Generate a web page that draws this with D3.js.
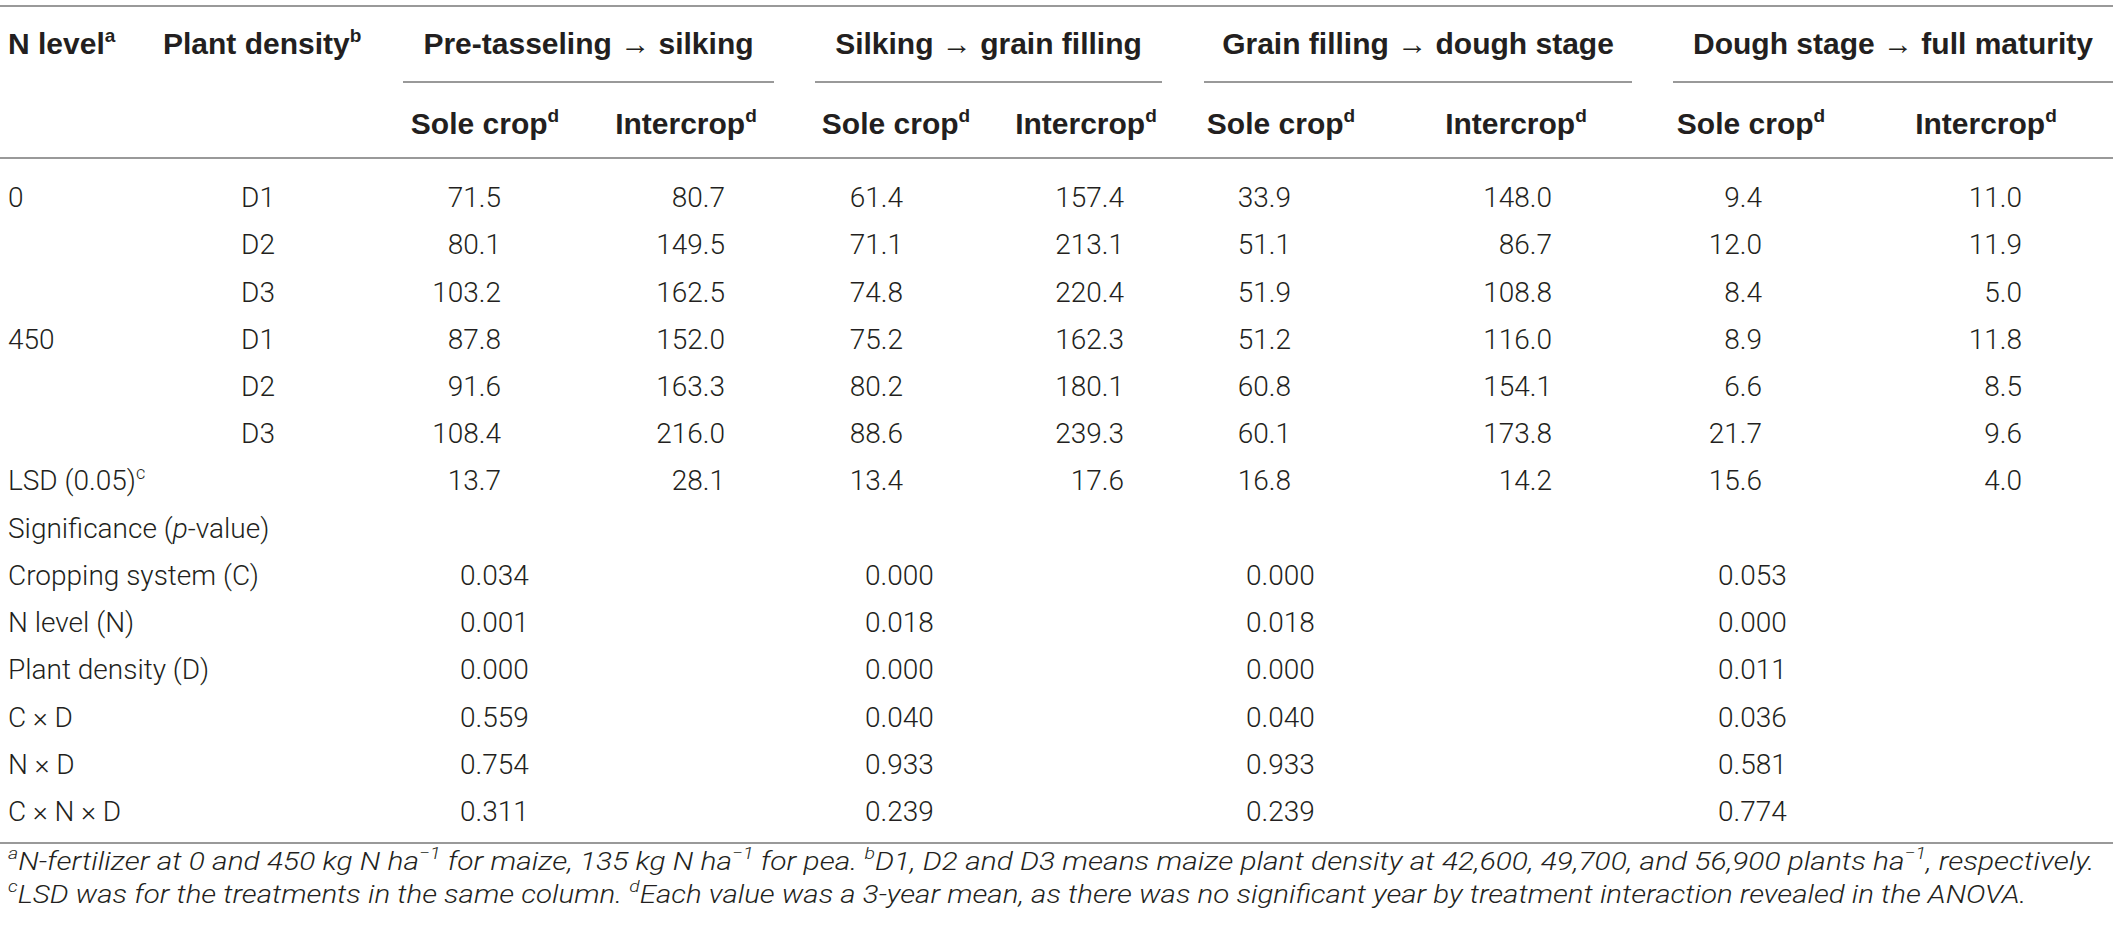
<!DOCTYPE html>
<html>
<head>
<meta charset="utf-8">
<script src="https://cdn.jsdelivr.net/npm/d3@7"></script>
<style>
	html, body { margin: 0; padding: 0; background: #fff; }
	svg text { fill: #231f20; }
	.body { font-family: "Roboto", "Liberation Sans", sans-serif; font-size: 28px; font-weight: 300; }
	.head { font-family: "Liberation Sans", Arial, sans-serif; font-size: 30px; font-weight: 700; }
	.foot { font-family: "Roboto", "Liberation Sans", sans-serif; font-size: 26px; font-weight: 300; font-style: italic; }
	.rule { stroke: #999; stroke-width: 2; }
</style>
</head>
<body>
<div id="chart"></div>
<script>
// Table data
var stages = ["Pre-tasseling \u2192 silking", "Silking \u2192 grain filling", "Grain filling \u2192 dough stage", "Dough stage \u2192 full maturity"];
var crops = ["Sole crop", "Intercrop"];
var nLevels = ["0", "", "", "450", "", ""];
var densities = ["D1", "D2", "D3", "D1", "D2", "D3"];

var preSole    = [71.5, 80.1, 103.2, 87.8, 91.6, 108.4];
var preInter   = [80.7, 149.5, 162.5, 152.0, 163.3, 216.0];
var silkSole   = [61.4, 71.1, 74.8, 75.2, 80.2, 88.6];
var silkInter  = [157.4, 213.1, 220.4, 162.3, 180.1, 239.3];
var grainSole  = [33.9, 51.1, 51.9, 51.2, 60.8, 60.1];
var grainInter = [148.0, 86.7, 108.8, 116.0, 154.1, 173.8];
var doughSole  = [9.4, 12.0, 8.4, 8.9, 6.6, 21.7];
var doughInter = [11.0, 11.9, 5.0, 11.8, 8.5, 9.6];

var lsd = [13.7, 28.1, 13.4, 17.6, 16.8, 14.2, 15.6, 4.0];

var sources = ["Cropping system (C)", "N level (N)", "Plant density (D)", "C \u00d7 D", "N \u00d7 D", "C \u00d7 N \u00d7 D"];
var pCropping = [0.034, 0.000, 0.000, 0.053];
var pNLevel   = [0.001, 0.018, 0.018, 0.000];
var pDensity  = [0.000, 0.000, 0.000, 0.011];
var pCxD      = [0.559, 0.040, 0.040, 0.036];
var pNxD      = [0.754, 0.933, 0.933, 0.581];
var pCxNxD    = [0.311, 0.239, 0.239, 0.774];

var footA = [["a", "sup"], ["N-fertilizer at 0 and 450 kg N ha"], ["\u22121", "sup"], [" for maize, 135 kg N ha"], ["\u22121", "sup"],
	[" for pea. "], ["b", "sup"], ["D1, D2 and D3 means maize plant density at 42,600, 49,700, and 56,900 plants ha"], ["\u22121", "sup"], [", respectively."]];
var footC = [["c", "sup"], ["LSD was for the treatments in the same column. "], ["d", "sup"],
	["Each value was a 3-year mean, as there was no significant year by treatment interaction revealed in the ANOVA."]];

var columns = [preSole, preInter, silkSole, silkInter, grainSole, grainInter, doughSole, doughInter];
var pRows = [pCropping, pNLevel, pDensity, pCxD, pNxD, pCxNxD];

// Layout
var width = 2118, height = 936;
var colKeys = d3.range(columns.length);

var xRight = d3.scaleOrdinal().domain(colKeys).range([501, 725, 903, 1124, 1291, 1552, 1762, 2022]);
var xHead = d3.scaleOrdinal().domain(colKeys).range([485, 686, 896, 1086, 1281, 1516, 1751, 1986]);
var spanStart = d3.scaleOrdinal().domain(d3.range(4)).range([403, 815, 1204, 1673]);
var spanEnd = d3.scaleOrdinal().domain(d3.range(4)).range([774, 1162, 1632, 2113]);
var pLeft = d3.scaleOrdinal().domain(d3.range(4)).range([460, 865, 1246, 1718]);

var rowCount = 6 + 2 + sources.length;
var y = d3.scalePoint().domain(d3.range(rowCount)).range([197, 811]);

var fmt1 = d3.format(".1f"), fmt3 = d3.format(".3f");
var xN = 8, xDensity = 258;
var baseDy = "0.36em";

var svg = d3.select("#chart").append("svg")
	.attr("width", width)
	.attr("height", height);

// write a line of text made of plain / superscript / italic parts
function rich(g, parts, supSize) {
	var lift = 0;
	parts.forEach(function(p) {
		var s = g.append("tspan").text(p[0]);
		if (p[1] == "sup") {
			s.style("font-size", supSize + "px").attr("dy", -lift - supSize * 0.62);
			lift = supSize * 0.62;
		} else {
			if (lift) s.attr("dy", lift);
			lift = 0;
			if (p[1] == "it") s.style("font-style", "italic");
		}
	});
	return g;
}

function hline(x1, x2, yy) {
	svg.append("line").attr("class", "rule")
		.attr("x1", x1).attr("x2", x2).attr("y1", yy).attr("y2", yy);
}

// Rules
hline(0, 2113, 6);
d3.range(4).forEach(function(i) { hline(spanStart(i), spanEnd(i), 82); });
hline(0, 2113, 158);
hline(0, 2113, 843);

// Header row 1
var h1 = 43;
rich(svg.append("text").attr("class", "head").attr("x", xN).attr("y", h1).attr("dy", baseDy),
	[["N level"], ["a", "sup"]], 19);
rich(svg.append("text").attr("class", "head").attr("x", 163).attr("y", h1).attr("dy", baseDy),
	[["Plant density"], ["b", "sup"]], 19);
svg.selectAll(".stage").data(stages).enter().append("text")
	.attr("class", "head stage")
	.attr("text-anchor", "middle")
	.attr("x", function(d, i) { return (spanStart(i) + spanEnd(i)) / 2; })
	.attr("y", h1).attr("dy", baseDy)
	.text(function(d) { return d; });

// Header row 2
colKeys.forEach(function(c) {
	rich(svg.append("text").attr("class", "head").attr("text-anchor", "middle")
		.attr("x", xHead(c)).attr("y", 123).attr("dy", baseDy),
		[[crops[c % 2]], ["d", "sup"]], 19);
});

// Body rows
var body = svg.append("g").attr("class", "body");

body.selectAll(".nlev").data(nLevels).enter().append("text")
	.attr("x", xN).attr("y", function(d, i) { return y(i); }).attr("dy", baseDy)
	.text(function(d) { return d; });

body.selectAll(".dens").data(densities).enter().append("text")
	.attr("text-anchor", "middle")
	.attr("x", xDensity).attr("y", function(d, i) { return y(i); }).attr("dy", baseDy)
	.text(function(d) { return d; });

columns.forEach(function(col, c) {
	body.selectAll(".v" + c).data(col).enter().append("text")
		.attr("text-anchor", "end")
		.attr("x", xRight(c)).attr("y", function(d, i) { return y(i); }).attr("dy", baseDy)
		.text(function(d) { return fmt1(d); });
});

// LSD row
rich(body.append("text").attr("x", xN).attr("y", y(6)).attr("dy", baseDy),
	[["LSD (0.05)"], ["c", "sup"]], 18);
body.selectAll(".lsd").data(lsd).enter().append("text")
	.attr("text-anchor", "end")
	.attr("x", function(d, i) { return xRight(i); }).attr("y", y(6)).attr("dy", baseDy)
	.text(function(d) { return fmt1(d); });

// Significance
rich(body.append("text").attr("x", xN).attr("y", y(7)).attr("dy", baseDy),
	[["Significance ("], ["p", "it"], ["-value)"]], 18);

sources.forEach(function(s, r) {
	body.append("text").attr("x", xN).attr("y", y(8 + r)).attr("dy", baseDy).text(s);
	body.selectAll(".p" + r).data(pRows[r]).enter().append("text")
		.attr("x", function(d, i) { return pLeft(i); }).attr("y", y(8 + r)).attr("dy", baseDy)
		.text(function(d) { return fmt3(d); });
});

// Footnotes: condensed to the width they take in the table
function footnote(parts, yy, targetWidth) {
	var t = svg.append("text").attr("class", "foot").attr("dy", baseDy);
	rich(t, parts, 17);
	var w = t.node().getBBox().width;
	t.attr("transform", "translate(" + xN + "," + yy + ") scale(" + (targetWidth / w) + ",1)");
}
footnote(footA, 870, 2088);
footnote(footC, 903, 2020);
</script>
</body>
</html>
